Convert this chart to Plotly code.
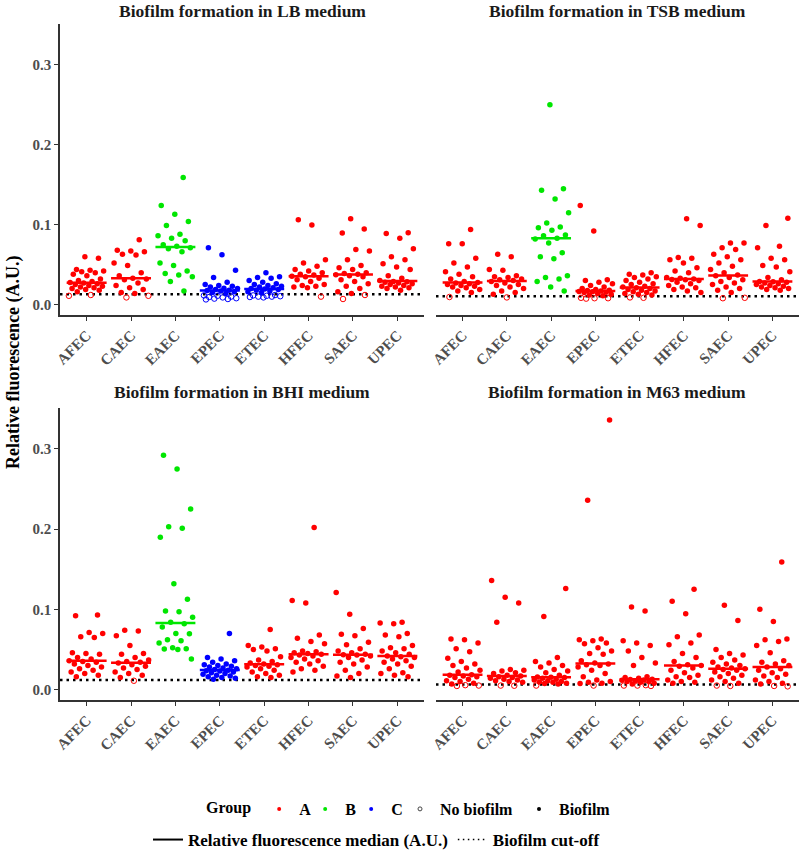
import numpy as np
import plotly.graph_objects as go

# ---------------- data ----------------
categories = ["AFEC", "CAEC", "EAEC", "EPEC", "ETEC", "HFEC", "SAEC", "UPEC"]
media = ["LB", "TSB", "BHI", "M63"]
panel_titles = {m: f"Biofilm formation in {m} medium" for m in media}

# group (A/B/C) for each category in each medium
groups_LB = ["A", "A", "B", "C", "C", "A", "A", "A"]
groups_TSB = ["A", "A", "B", "A", "A", "A", "A", "A"]
groups_BHI = ["A", "A", "B", "C", "A", "A", "A", "A"]
groups_M63 = ["A", "A", "A", "A", "A", "A", "A", "A"]

# biofilm cut-off per medium
cutoffs = {"LB": 0.0130, "TSB": 0.0105, "BHI": 0.0120, "M63": 0.0063}

# relative fluorescence (A.U.) - strains forming biofilm
LB_biofilm = {
    "AFEC": [0.060, 0.058, 0.044, 0.043, 0.042, 0.041, 0.040, 0.038, 0.036, 0.032, 0.030, 0.029,
             0.0275, 0.027, 0.026, 0.025, 0.024, 0.023, 0.022, 0.021, 0.020, 0.019, 0.018, 0.016],
    "CAEC": [0.081, 0.068, 0.067, 0.066, 0.063, 0.062, 0.052, 0.049, 0.040, 0.036, 0.033, 0.032,
             0.031, 0.027, 0.024, 0.021, 0.019, 0.015, 0.014],
    "EAEC": [0.159, 0.124, 0.113, 0.104, 0.099, 0.088, 0.086, 0.083, 0.080, 0.070, 0.075, 0.073,
             0.071, 0.066, 0.052, 0.049, 0.042, 0.039, 0.037, 0.035, 0.029, 0.017],
    "EPEC": [0.071, 0.0625, 0.043, 0.034, 0.028, 0.025, 0.024, 0.023, 0.022, 0.0205, 0.020, 0.019,
             0.018, 0.0175, 0.017, 0.016, 0.015, 0.014],
    "ETEC": [0.040, 0.035, 0.034, 0.033, 0.030, 0.028, 0.026, 0.025, 0.024, 0.023, 0.022, 0.021,
             0.020, 0.0195, 0.019, 0.018, 0.017, 0.016, 0.015],
    "HFEC": [0.106, 0.0995, 0.056, 0.052, 0.048, 0.044, 0.042, 0.040, 0.038, 0.037, 0.0355, 0.035,
             0.033, 0.031, 0.029, 0.025, 0.024, 0.023, 0.022, 0.021],
    "SAEC": [0.1075, 0.0946, 0.0896, 0.069, 0.067, 0.056, 0.049, 0.046, 0.044, 0.040, 0.039, 0.038,
             0.0375, 0.036, 0.035, 0.031, 0.029, 0.026, 0.023, 0.020, 0.016, 0.014],
    "UPEC": [0.090, 0.089, 0.083, 0.070, 0.060, 0.056, 0.051, 0.047, 0.044, 0.036, 0.033, 0.030,
             0.029, 0.0285, 0.028, 0.027, 0.026, 0.025, 0.024, 0.023, 0.022, 0.021, 0.020, 0.018],
}
LB_no_biofilm = {
    "AFEC": [0.012, 0.011], "CAEC": [0.011, 0.009], "EAEC": [],
    "EPEC": [0.0115, 0.011, 0.010, 0.0095, 0.009, 0.008, 0.0075, 0.007, 0.0065],
    "ETEC": [0.012, 0.0115, 0.011, 0.0105, 0.010, 0.010, 0.0095, 0.009],
    "HFEC": [0.010], "SAEC": [0.012, 0.007], "UPEC": [],
}

TSB_biofilm = {
    "AFEC": [0.094, 0.076, 0.076, 0.058, 0.052, 0.047, 0.041, 0.038, 0.035, 0.032, 0.029, 0.0275,
             0.027, 0.026, 0.025, 0.024, 0.023, 0.022, 0.021, 0.019, 0.017, 0.015],
    "CAEC": [0.063, 0.060, 0.044, 0.043, 0.036, 0.035, 0.034, 0.032, 0.031, 0.030, 0.029, 0.027,
             0.025, 0.024, 0.022, 0.020, 0.017, 0.015, 0.013],
    "EAEC": [0.250, 0.145, 0.143, 0.132, 0.115, 0.102, 0.097, 0.096, 0.093, 0.087, 0.086, 0.083,
             0.082, 0.077, 0.065, 0.060, 0.0575, 0.036, 0.034, 0.032, 0.029, 0.022, 0.017],
    "EPEC": [0.124, 0.092, 0.031, 0.030, 0.028, 0.026, 0.024, 0.022, 0.020, 0.019, 0.018, 0.0175,
             0.017, 0.0165, 0.016, 0.0155, 0.015, 0.014, 0.013, 0.012, 0.011],
    "ETEC": [0.040, 0.038, 0.037, 0.035, 0.034, 0.032, 0.030, 0.028, 0.026, 0.025, 0.023, 0.022,
             0.021, 0.020, 0.019, 0.018, 0.017, 0.016, 0.015, 0.014, 0.013, 0.012],
    "HFEC": [0.1075, 0.099, 0.059, 0.058, 0.056, 0.052, 0.046, 0.042, 0.040, 0.0315, 0.034, 0.033,
             0.032, 0.031, 0.030, 0.028, 0.026, 0.024, 0.022, 0.021, 0.019, 0.017, 0.015],
    "SAEC": [0.077, 0.077, 0.071, 0.069, 0.063, 0.060, 0.056, 0.052, 0.048, 0.044, 0.040, 0.037,
             0.036, 0.034, 0.031, 0.029, 0.027, 0.025, 0.022, 0.020, 0.018, 0.015],
    "UPEC": [0.108, 0.099, 0.073, 0.071, 0.058, 0.056, 0.049, 0.047, 0.041, 0.0285, 0.034, 0.031,
             0.029, 0.028, 0.027, 0.026, 0.025, 0.024, 0.023, 0.022, 0.021, 0.020, 0.019, 0.018],
}
TSB_no_biofilm = {
    "AFEC": [0.0095], "CAEC": [0.009], "EAEC": [],
    "EPEC": [0.0085, 0.008, 0.008, 0.0075], "ETEC": [0.009, 0.0085],
    "HFEC": [], "SAEC": [0.0085, 0.008], "UPEC": [],
}

BHI_biofilm = {
    "AFEC": [0.093, 0.092, 0.071, 0.070, 0.066, 0.065, 0.046, 0.045, 0.044, 0.040, 0.038, 0.036,
             0.035, 0.034, 0.032, 0.030, 0.028, 0.026, 0.024, 0.022, 0.020, 0.018, 0.016],
    "CAEC": [0.074, 0.073, 0.067, 0.055, 0.045, 0.044, 0.040, 0.037, 0.035, 0.034, 0.033, 0.031,
             0.029, 0.027, 0.025, 0.022, 0.020, 0.018, 0.015],
    "EAEC": [0.292, 0.275, 0.225, 0.203, 0.201, 0.190, 0.132, 0.1125, 0.098, 0.097, 0.090, 0.084,
             0.082, 0.078, 0.070, 0.0695, 0.062, 0.061, 0.058, 0.052, 0.051, 0.0505, 0.050, 0.038],
    "EPEC": [0.070, 0.040, 0.038, 0.036, 0.034, 0.032, 0.031, 0.030, 0.029, 0.028, 0.027, 0.026,
             0.025, 0.024, 0.0235, 0.023, 0.022, 0.021, 0.020, 0.019, 0.018, 0.017, 0.016, 0.015,
             0.014, 0.013],
    "ETEC": [0.075, 0.055, 0.053, 0.051, 0.050, 0.048, 0.041, 0.037, 0.035, 0.033, 0.032, 0.031,
             0.030, 0.029, 0.028, 0.026, 0.024, 0.022, 0.020, 0.018, 0.016, 0.015],
    "HFEC": [0.202, 0.111, 0.108, 0.068, 0.064, 0.060, 0.057, 0.048, 0.047, 0.046, 0.045, 0.044,
             0.043, 0.042, 0.040, 0.038, 0.036, 0.034, 0.032, 0.029, 0.026, 0.024, 0.022],
    "SAEC": [0.121, 0.094, 0.076, 0.069, 0.067, 0.059, 0.056, 0.051, 0.048, 0.046, 0.044, 0.0435,
             0.043, 0.042, 0.040, 0.037, 0.034, 0.032, 0.028, 0.024, 0.020, 0.017, 0.015],
    "UPEC": [0.084, 0.083, 0.082, 0.070, 0.068, 0.066, 0.055, 0.052, 0.051, 0.048, 0.046, 0.044,
             0.042, 0.041, 0.040, 0.038, 0.036, 0.034, 0.032, 0.029, 0.026, 0.021, 0.020, 0.018,
             0.016],
}
BHI_no_biofilm = {
    "AFEC": [], "CAEC": [0.011], "EAEC": [], "EPEC": [], "ETEC": [],
    "HFEC": [], "SAEC": [], "UPEC": [],
}

M63_biofilm = {
    "AFEC": [0.063, 0.062, 0.058, 0.051, 0.047, 0.039, 0.035, 0.032, 0.030, 0.027, 0.024, 0.022,
             0.0185, 0.018, 0.017, 0.016, 0.015, 0.013, 0.011, 0.010, 0.008, 0.007],
    "CAEC": [0.136, 0.115, 0.108, 0.084, 0.025, 0.024, 0.023, 0.021, 0.020, 0.018, 0.017, 0.016,
             0.015, 0.014, 0.013, 0.012, 0.011, 0.010, 0.009],
    "EAEC": [0.126, 0.091, 0.040, 0.035, 0.033, 0.030, 0.028, 0.025, 0.023, 0.021, 0.018, 0.0157,
             0.0153, 0.015, 0.014, 0.013, 0.012, 0.011, 0.010, 0.0095, 0.009, 0.008, 0.0075, 0.007],
    "EPEC": [0.336, 0.236, 0.063, 0.062, 0.061, 0.058, 0.057, 0.052, 0.048, 0.045, 0.044, 0.036,
             0.033, 0.032, 0.031, 0.030, 0.028, 0.024, 0.020, 0.016, 0.012, 0.010, 0.009, 0.008,
             0.0075],
    "ETEC": [0.103, 0.098, 0.061, 0.058, 0.055, 0.048, 0.040, 0.033, 0.030, 0.016, 0.015, 0.014,
             0.013, 0.0125, 0.012, 0.0115, 0.011, 0.0105, 0.010, 0.009, 0.008, 0.007],
    "HFEC": [0.125, 0.110, 0.0946, 0.068, 0.066, 0.058, 0.056, 0.045, 0.040, 0.035, 0.031, 0.030,
             0.029, 0.027, 0.024, 0.021, 0.018, 0.016, 0.015, 0.012, 0.010, 0.009, 0.008],
    "SAEC": [0.105, 0.086, 0.050, 0.045, 0.043, 0.040, 0.037, 0.034, 0.032, 0.030, 0.028, 0.027,
             0.026, 0.025, 0.024, 0.022, 0.020, 0.018, 0.016, 0.014, 0.012, 0.010, 0.008],
    "UPEC": [0.159, 0.100, 0.085, 0.063, 0.062, 0.060, 0.055, 0.046, 0.036, 0.034, 0.032, 0.030,
             0.028, 0.026, 0.024, 0.021, 0.019, 0.017, 0.015, 0.012, 0.010, 0.008, 0.007],
}
M63_no_biofilm = {
    "AFEC": [0.005, 0.0055, 0.0045], "CAEC": [0.005, 0.0048], "EAEC": [0.005],
    "EPEC": [0.005], "ETEC": [0.005, 0.005, 0.0045, 0.0055], "HFEC": [],
    "SAEC": [0.005, 0.0045], "UPEC": [0.004, 0.0045],
}

panel_data = {
    "LB": (LB_biofilm, LB_no_biofilm, groups_LB),
    "TSB": (TSB_biofilm, TSB_no_biofilm, groups_TSB),
    "BHI": (BHI_biofilm, BHI_no_biofilm, groups_BHI),
    "M63": (M63_biofilm, M63_no_biofilm, groups_M63),
}

group_colors = {"A": "#FF0000", "B": "#00E600", "C": "#0000FF"}

# ---------------- layout geometry (page pixels) ----------------
W, H = 800, 853
FONT = "Liberation Serif"


def px(xw):
    return xw / W


def py(yw):
    return (H - yw) / H


x_dom = {0: [px(60), px(424)], 1: [px(436), px(799)]}
y_dom = {0: [py(315), py(24)], 1: [py(700), py(408)]}
positions = {"LB": (0, 0), "TSB": (0, 1), "BHI": (1, 0), "M63": (1, 1)}
axis_ids = {"LB": "", "TSB": "2", "BHI": "3", "M63": "4"}
Y_RANGE = [-0.013, 0.351]
JIT = 0.4
HALF = 0.45

fig = go.Figure()
layout_axes = {}
annotations = []

for m in media:
    bio, nobio, grp = panel_data[m]
    r, c = positions[m]
    aid = axis_ids[m]
    xa, ya = "x" + aid, "y" + aid
    pts = {}  # (group, kind) -> xs, ys
    med_lines = {}
    for ci, cat in enumerate(categories):
        g = grp[ci]
        vals = [(v, "filled") for v in bio[cat]] + [(v, "open") for v in nobio[cat]]
        order = sorted(range(len(vals)), key=lambda k: vals[k][0])
        phase = (ci * 0.37 + r * 0.21 + c * 0.13) % 1
        for rank, k in enumerate(order):
            v, kind = vals[k]
            off = (((rank * 0.6180339887 + phase) % 1) - 0.5) * 2 * JIT
            xs, ys = pts.setdefault((g, kind), ([], []))
            xs.append(ci + 1 + off)
            ys.append(v)
        med = float(np.median([v for v, _ in vals]))
        lx, ly = med_lines.setdefault(g, ([], []))
        lx += [ci + 1 - HALF, ci + 1 + HALF, None]
        ly += [med, med, None]
    # cut-off line
    fig.add_trace(go.Scatter(x=[0.4, 8.6], y=[cutoffs[m]] * 2, mode="lines",
                             line=dict(color="black", width=2.5, dash="2.5px,4px"),
                             xaxis=xa, yaxis=ya, showlegend=False, hoverinfo="skip"))
    for (g, kind), (xs, ys) in pts.items():
        if kind == "filled":
            mk = dict(color=group_colors[g], size=5.5, symbol="circle")
        else:
            mk = dict(color=group_colors[g], size=5.5, symbol="circle-open", line=dict(width=1))
        fig.add_trace(go.Scatter(x=xs, y=ys, mode="markers", marker=mk, cliponaxis=False,
                                 xaxis=xa, yaxis=ya, showlegend=False))
    for g, (lx, ly) in med_lines.items():
        fig.add_trace(go.Scatter(x=lx, y=ly, mode="lines",
                                 line=dict(color=group_colors[g], width=2.5),
                                 xaxis=xa, yaxis=ya, showlegend=False, hoverinfo="skip"))

    axis_font = dict(family=FONT, size=15, color="#4D4D4D", weight="bold")
    layout_axes["xaxis" + aid] = dict(
        domain=x_dom[c], anchor=ya, range=[0.4, 8.6], tickmode="array",
        tickvals=list(range(1, 9)), ticktext=categories, tickangle=-45,
        ticks="outside", ticklen=4, tickwidth=1.2, tickcolor="#333333",
        showline=True, linecolor="#333333", linewidth=1.5, showgrid=False,
        zeroline=False, tickfont=axis_font, automargin=False)
    layout_axes["yaxis" + aid] = dict(
        domain=y_dom[r], anchor=xa, range=Y_RANGE, tickmode="array",
        tickvals=[0, 0.1, 0.2, 0.3], ticktext=["0.0", "0.1", "0.2", "0.3"],
        ticks="outside" if c == 0 else "", ticklen=4, tickwidth=1.2, tickcolor="#333333",
        showline=(c == 0), linecolor="#333333", linewidth=1.5, showgrid=False,
        zeroline=False, showticklabels=(c == 0), tickfont=axis_font, automargin=False)
    if aid:
        layout_axes["yaxis" + aid]["matches"] = "y"
    center_px = 242 if c == 0 else 617
    annotations.append(dict(
        text=panel_titles[m], xref="paper", yref="paper",
        x=px(center_px), y=py(11 if r == 0 else 392),
        xanchor="center", yanchor="middle", showarrow=False,
        font=dict(family=FONT, size=17.5, color="#1A1A1A", weight="bold")))

annotations.append(dict(
    text="Relative fluorescence (A.U.)", xref="paper", yref="paper",
    x=px(13), y=py(362), textangle=-90, xanchor="center", yanchor="middle",
    showarrow=False, font=dict(family=FONT, size=18, color="black", weight="bold")))

# ---------------- legends (key-only traces) ----------------
for g, lw in zip(["A", "B", "C"], [1, 1, 14]):
    fig.add_trace(go.Scatter(x=[None], y=[None], mode="markers", name=g, legendwidth=lw,
                             marker=dict(color=group_colors[g], size=4), legend="legend"))
fig.add_trace(go.Scatter(x=[None], y=[None], mode="markers", name="No biofilm", legendwidth=74,
                         marker=dict(color="#444444", size=4, symbol="circle-open"),
                         legend="legend2"))
fig.add_trace(go.Scatter(x=[None], y=[None], mode="markers", name="Biofilm",
                         marker=dict(color="black", size=4), legend="legend2"))
fig.add_trace(go.Scatter(x=[None], y=[None], mode="lines",
                         name="Relative fluorescence median (A.U.)",
                         line=dict(color="black", width=2), legend="legend3"))
fig.add_trace(go.Scatter(x=[None], y=[None], mode="lines", name="Biofilm cut-off",
                         line=dict(color="black", width=1.5, dash="1.5px,3.5px"),
                         legend="legend3"))

leg_font = dict(family=FONT, size=16, color="black", weight="bold")
leg_font2 = dict(family=FONT, size=17, color="black", weight="bold")
common = dict(orientation="h", xanchor="left", yanchor="middle",
              bgcolor="rgba(0,0,0,0)", itemwidth=30, itemclick=False, itemdoubleclick=False)

fig.update_layout(
    width=W, height=H, margin=dict(l=0, r=0, t=0, b=0, autoexpand=False),
    paper_bgcolor="white", plot_bgcolor="white",
    font=dict(family=FONT),
    annotations=annotations,
    legend=dict(x=px(204), y=py(809), font=leg_font,
                title=dict(text="Group", side="left", font=leg_font), **common),
    legend2=dict(x=px(400), y=py(809), font=leg_font, **common),
    legend3=dict(x=px(148), y=py(840), font=leg_font2, **common),
    **layout_axes,
)

# remove the browser's default 8px body margin so figure pixels equal page pixels
fig.write_html("out.html", config={"displayModeBar": False},
               post_script="document.body.style.margin='0px';")
